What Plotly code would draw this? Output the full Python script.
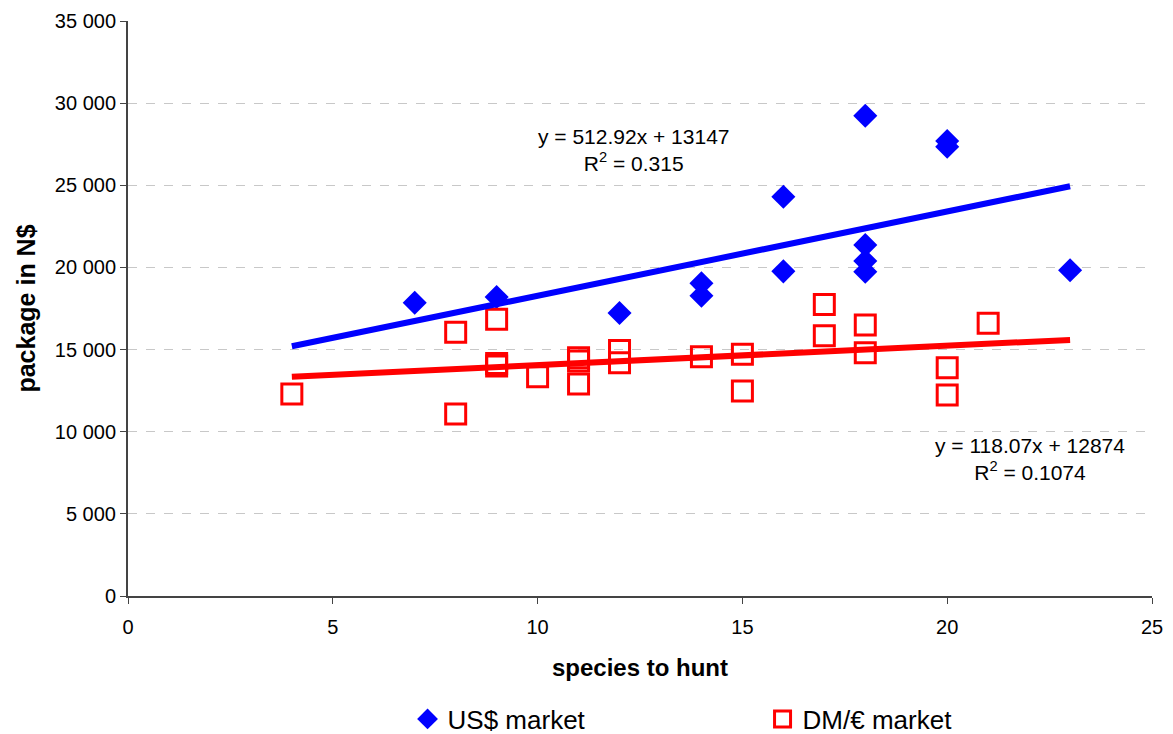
import plotly.graph_objects as go

# ---- data ----
us_x = [7, 9, 12, 14, 14, 16, 16, 18, 18, 18, 18, 20, 20, 23]
us_y = [17850, 18200, 17225, 19030, 18280, 24300, 19760, 29230, 21365, 20390, 19740, 27700, 27350, 19825]

dm_x = [4, 8, 8, 9, 9, 9, 10, 11, 11, 11, 12, 12, 14, 15, 15, 17, 17, 18, 18, 20, 20, 21]
dm_y = [12300, 16050, 11080, 16850, 14150, 14000, 13350, 14500, 14300, 12900, 14950, 14200,
        14570, 14710, 12480, 17750, 15840, 16500, 14810, 13900, 12230, 16600]

us_slope, us_intercept = 512.92, 13147
dm_slope, dm_intercept = 118.07, 12874
trend_x = [4, 23]

y_ticks = [0, 5000, 10000, 15000, 20000, 25000, 30000, 35000]
x_ticks = [0, 5, 10, 15, 20, 25]

FONT = "Liberation Sans, Arial, sans-serif"

fig = go.Figure()
fig.add_trace(go.Scatter(
    x=us_x, y=us_y, mode="markers", name="US$ market",
    marker=dict(symbol="diamond", size=18.5, color="#0000FF", line=dict(width=0))))
fig.add_trace(go.Scatter(
    x=dm_x, y=dm_y, mode="markers", name="DM/€ market",
    marker=dict(symbol="square-open", size=20, color="#FF0000", line=dict(width=3, color="#FF0000"))))
fig.add_trace(go.Scatter(
    x=trend_x, y=[us_slope * v + us_intercept for v in trend_x], mode="lines",
    line=dict(color="#0000FF", width=6), showlegend=False, hoverinfo="skip"))
fig.add_trace(go.Scatter(
    x=trend_x, y=[dm_slope * v + dm_intercept for v in trend_x], mode="lines",
    line=dict(color="#FF0000", width=6), showlegend=False, hoverinfo="skip"))

fig.add_annotation(x=12.35, y=27150, xref="x", yref="y", showarrow=False,
                   text="y = 512.92x + 13147<br>R<sup>2</sup> = 0.315",
                   font=dict(family=FONT, size=21, color="black"), align="center")
fig.add_annotation(x=22.02, y=8340, xref="x", yref="y", showarrow=False,
                   text="y = 118.07x + 12874<br>R<sup>2</sup> = 0.1074",
                   font=dict(family=FONT, size=21, color="black"), align="center")

fig.update_layout(
    width=1173, height=734,
    margin=dict(l=128, r=21, t=21, b=138, autoexpand=False),
    paper_bgcolor="white", plot_bgcolor="white",
    separators=". ",
    font=dict(family=FONT, size=20, color="black"),
    showlegend=True,
    legend=dict(orientation="h", x=0.273, xanchor="left", y=-0.214, yanchor="middle",
                font=dict(family=FONT, size=26, color="black"),
                itemsizing="trace", entrywidth=310, entrywidthmode="pixels"),
    xaxis=dict(range=[0, 25], tickvals=x_ticks, showgrid=False, zeroline=False,
               showline=True, linecolor="#444444", linewidth=2,
               ticks="outside", ticklen=6, tickcolor="#444444",
               tickfont=dict(family=FONT, size=20), ticklabelstandoff=6,
               title=dict(text="<b>species to hunt</b>", font=dict(family=FONT, size=24), standoff=22)),
    yaxis=dict(range=[0, 35000], tickvals=y_ticks, tickformat=",d",
               showgrid=True, gridcolor="#c8c8c8", griddash="dash", gridwidth=1,
               zeroline=False, showline=True, linecolor="#444444", linewidth=2,
               ticks="outside", ticklen=6, tickcolor="#444444",
               tickfont=dict(family=FONT, size=20),
               title=dict(text="<b>package in N$</b>", font=dict(family=FONT, size=25), standoff=12)),
)

fig.write_html("out.html")
